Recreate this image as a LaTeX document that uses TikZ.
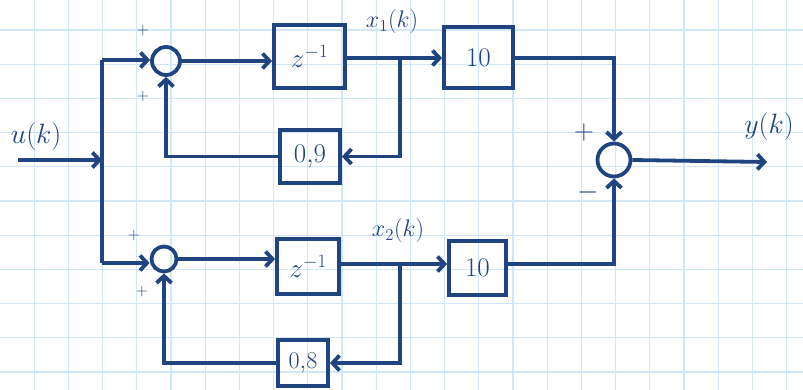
\documentclass[tikz,border=0pt]{standalone}
\usepackage{fix-cm}
\usetikzlibrary{arrows.meta,calc}
\definecolor{ink}{RGB}{31,68,128}
\definecolor{gridc}{RGB}{208,232,248}
\begin{document}
\begin{tikzpicture}[x=1pt,y=-1pt,
  wire/.style={draw=ink,line width=3.8pt},
  arr/.style={wire,-{Straight Barb[length=7pt,width=15pt]}},
  blk/.style={draw=ink,line width=3.8pt,inner sep=0pt,text=ink,font=\fontsize{27}{30}\selectfont},
  sumc/.style={circle,draw=ink,line width=3.8pt,inner sep=0pt},
  lbl/.style={text=ink,font=\fontsize{28}{30}\selectfont,inner sep=1pt},
  sgn/.style={text=ink,font=\fontsize{16}{18}\selectfont,inner sep=0pt}]
\useasboundingbox (0,0) rectangle (803,390);
\fill[white] (0,0) rectangle (803,390);
\foreach \i in {1,...,23} \draw[gridc,line width=1.3pt] (34.2*\i,0) -- (34.2*\i,390);
\foreach \j in {0,...,10} \draw[gridc,line width=1.3pt] (0,30+34.2*\j) -- (803,30+34.2*\j);

% summing junctions
\node[sumc,minimum size=28pt] (s1) at (166,61) {};
\node[sumc,minimum size=25pt] (s2) at (164,259) {};
\node[sumc,minimum size=33pt] (s3) at (614,160) {};

% blocks
\node[blk,minimum width=71pt,minimum height=63pt] (z1) at (309.5,56.5) {$z^{-1}$};
\node[blk,minimum width=69pt,minimum height=61pt] (g1) at (478.5,57.5) {$10$};
\node[blk,minimum width=60pt,minimum height=53pt] (k1) at (310,156.5) {$0{,}9$};
\node[blk,minimum width=62pt,minimum height=55pt] (z2) at (308,266.5) {$z^{-1}$};
\node[blk,minimum width=57pt,minimum height=54pt] (g2) at (477.5,268) {$10$};
\node[blk,minimum width=50pt,minimum height=46pt,font=\fontsize{24}{26}\selectfont] (k2) at (303,363) {$0{,}8$};

% points
\coordinate (in) at (18,160);
\coordinate (j0) at (102,160);
\coordinate (jt) at (102,60);
\coordinate (jb) at (102,263);
\coordinate (b1) at (400,58);
\coordinate (b2) at (400,264);
\coordinate (out) at (767,162);

% connectors
\draw[arr] (in) -- (j0);
\draw[wire] (jt) -- (jb);
\draw[arr] (jt) -- (jt -| s1.west);
\draw[arr] (jb) -- (jb -| s2.west);
\draw[arr] (s1.east) -- (s1.east -| z1.west);
\draw[arr] (s2.east) -- (s2.east -| z2.west);
\draw[wire] (z1.east |- b1) -- (b1);
\draw[wire] (z2.east |- b2) -- (b2);
\draw[arr] (b1) -- (b1 -| g1.west);
\draw[arr] (b2) -- (b2 -| g2.west);
\draw[arr] (b1) |- (k1.east);
\draw[arr] (b2) |- (k2.east);
\draw[arr] (k1.west) -| (s1.south);
\draw[arr] (k2.west) -| (s2.south);
\draw[arr] (g1.east |- b1) -| (s3.north);
\draw[arr] (g2.east |- b2) -| (s3.south);
\draw[arr] (s3.east) -- (out);

% labels
\node[lbl] (lu) at (36,137) {$u(k)$};
\node[lbl] (ly) at (769,127) {$y(k)$};
\node[lbl,font=\fontsize{24}{26}\selectfont] (lx1) at (392,22) {$x_1(k)$};
\node[lbl,font=\fontsize{24}{26}\selectfont] (lx2) at (398,231) {$x_2(k)$};
\node[sgn] (p1) at (143,31) {$+$};
\node[sgn] (p2) at (143,97) {$+$};
\node[sgn] (p3) at (134,236) {$+$};
\node[sgn] (p4) at (142,291) {$+$};
\node[sgn,font=\fontsize{28}{30}\selectfont] (p5) at (584,133) {$+$};
\node[sgn,font=\fontsize{28}{30}\selectfont] (m5) at (588,193) {$-$};
\end{tikzpicture}
\end{document}
